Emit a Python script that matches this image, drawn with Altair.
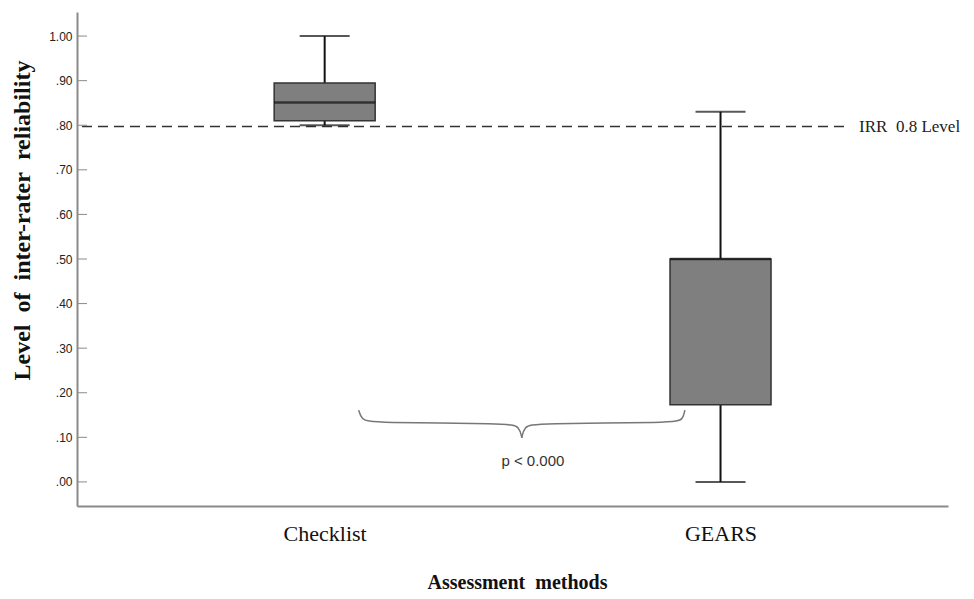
import altair as alt
import pandas as pd

NB = "\u00a0"
categories = ["Checklist", "GEARS"]
xpos = [1, 2]
mins = [0.80, 0.00]
q1s = [0.81, 0.173]
medians = [0.851, 0.50]
q3s = [0.895, 0.50]
maxs = [1.00, 0.83]

irr_level = 0.797
irr_label = "IRR" + NB + " 0.8 Level"
irr_x_end = 2.322
irr_label_x = 2.350

y_ticks = [0.0, 0.1, 0.2, 0.3, 0.4, 0.5, 0.6, 0.7, 0.8, 0.9, 1.0]

# brace (annotation) points: part, x, y
brace_part = ["L", "L", "L", "L", "L", "L", "R", "R", "R", "R", "R", "R"]
brace_x = [1.086, 1.093, 1.118, 1.466, 1.492, 1.498, 1.498, 1.504, 1.530, 1.885, 1.905, 1.910]
brace_y = [0.161, 0.140, 0.132, 0.132, 0.124, 0.099, 0.099, 0.124, 0.132, 0.132, 0.140, 0.161]
p_text = "p < 0.000"
p_x = 1.526
p_y = 0.048

y_title = "Level" + NB + " of" + NB + " inter-rater" + NB + " reliability"
x_title = "Assessment" + NB + " methods"

boxes = pd.DataFrame({"cat": categories, "x": xpos, "lo": mins, "q1": q1s,
                      "med": medians, "q3": q3s, "hi": maxs})
xs = alt.Scale(domain=[0.387, 2.562], nice=False, zero=False)
ys = alt.Scale(domain=[-0.054, 1.054], nice=False, zero=False)

x_axis = alt.Axis(values=xpos, labelExpr="datum.value == 1 ? 'Checklist' : 'GEARS'",
                  title=x_title, ticks=False, tickSize=0, grid=False,
                  domainColor="#8a8a8a", domainWidth=2,
                  labelFont="Liberation Serif", labelFontSize=22, labelColor="#111",
                  labelPadding=27, labelBaseline="middle",
                  titleFont="Liberation Serif", titleFontSize=20, titleFontWeight="bold",
                  titleColor="#111", titleX=440, titleY=82, titleBaseline="alphabetic")
y_axis = alt.Axis(values=y_ticks,
                  labelExpr="datum.value < 1 ? slice(format(datum.value, '.2f'), 1) : format(datum.value, '.2f')",
                  title=y_title, ticks=False, tickSize=0, grid=False,
                  domainColor="#8a8a8a", domainWidth=2,
                  labelFont="Liberation Sans", labelFontSize=12, labelColor="#222",
                  labelPadding=5,
                  titleFont="Liberation Serif", titleFontSize=24, titleFontWeight="bold",
                  titleColor="#111", titleX=-55, titleY=208, titleBaseline="middle")

base = alt.Chart(boxes)

whisk = base.mark_rule(color="#111", strokeWidth=2).encode(
    x=alt.X("x:Q", scale=xs, axis=x_axis),
    y=alt.Y("lo:Q", scale=ys, axis=y_axis),
    y2="hi:Q")
box = base.mark_bar(size=101, color="#7f7f7f", stroke="#333", strokeWidth=1.5).encode(
    x=alt.X("x:Q", scale=xs), y=alt.Y("q1:Q", scale=ys), y2="q3:Q")
med = base.mark_tick(orient="horizontal", size=101, thickness=2.5, color="#111").encode(
    x=alt.X("x:Q", scale=xs), y=alt.Y("med:Q", scale=ys))
cap_lo = base.mark_tick(orient="horizontal", size=50, thickness=2, color="#111").encode(
    x=alt.X("x:Q", scale=xs), y=alt.Y("lo:Q", scale=ys))
cap_hi = base.mark_tick(orient="horizontal", size=50, thickness=2, color="#111").encode(
    x=alt.X("x:Q", scale=xs), y=alt.Y("hi:Q", scale=ys))

ticks_df = pd.DataFrame({"v": y_ticks})
yt = alt.Chart(ticks_df).mark_rule(color="#8a8a8a", strokeWidth=1).encode(
    x=alt.value(1), x2=alt.value(10), y=alt.Y("v:Q", scale=ys))

irr_df = pd.DataFrame({"y": [irr_level], "x0": [xs.domain[0]], "x1": [irr_x_end],
                       "lx": [irr_label_x], "t": [irr_label]})
irr = alt.Chart(irr_df).mark_rule(color="#333", strokeWidth=1.5, strokeDash=[10, 6]).encode(
    x=alt.X("x0:Q", scale=xs), x2="x1:Q", y=alt.Y("y:Q", scale=ys))
irr_t = alt.Chart(irr_df).mark_text(align="left", baseline="middle", font="Liberation Serif",
                                     fontSize=17, color="#222").encode(
    x=alt.X("lx:Q", scale=xs), y=alt.Y("y:Q", scale=ys), text="t:N")

brace_df = pd.DataFrame({"part": brace_part, "x": brace_x, "y": brace_y,
                         "o": list(range(len(brace_x)))})
brace = alt.Chart(brace_df).mark_line(color="#777", strokeWidth=1.5, interpolate="basis").encode(
    x=alt.X("x:Q", scale=xs), y=alt.Y("y:Q", scale=ys), detail="part:N", order="o:Q")
p_df = pd.DataFrame({"x": [p_x], "y": [p_y], "t": [p_text]})
ptxt = alt.Chart(p_df).mark_text(font="Liberation Sans", fontSize=15, color="#333",
                                  baseline="middle").encode(
    x=alt.X("x:Q", scale=xs), y=alt.Y("y:Q", scale=ys), text="t:N")

chart = alt.layer(irr, whisk, box, med, cap_lo, cap_hi, yt, irr_t, brace, ptxt).properties(
    width=871, height=494,
    autosize=alt.AutoSizeParams(type="none"),
    padding={"left": 69, "top": 4, "right": 18, "bottom": 88},
    background="white",
).configure_view(stroke=None)

chart.save("out.html", embed_options={"renderer": "svg", "actions": False})
